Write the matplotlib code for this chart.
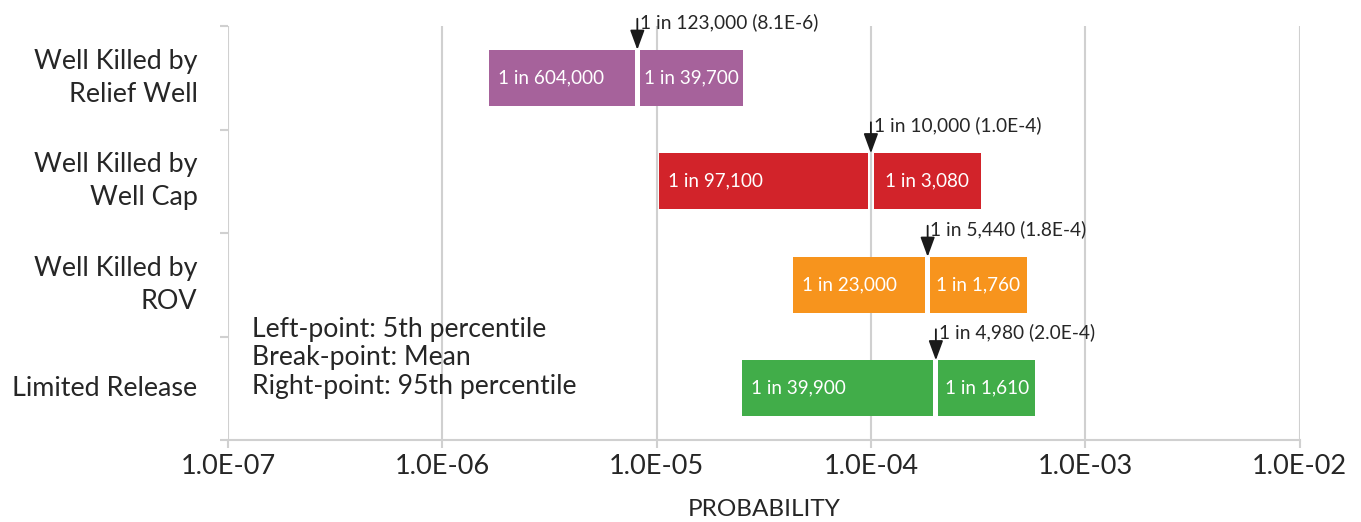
import numpy as np
import matplotlib
matplotlib.use("Agg")
import matplotlib.pyplot as plt
from matplotlib.ticker import FixedLocator, FuncFormatter

plt.rcParams['font.family'] = ['Lato', 'DejaVu Sans']

# ---------------- data ----------------
categories = ["Well Killed by\nRelief Well", "Well Killed by\nWell Cap",
              "Well Killed by\nROV", "Limited Release"]
low_one_in = [604000, 97100, 23000, 39900]      # 5th percentile label, "1 in N"
mean_one_in = [123000, 10000, 5440, 4980]       # mean label, "1 in N"
high_one_in = [39700, 3080, 1760, 1610]         # 95th percentile label, "1 in N"
# bar extents as drawn in the chart (probability)
p5 = [1.66e-6, 1.03e-5, 4.35e-5, 2.51e-5]
p_mean = [8.13e-6, 1.0e-4, 1.84e-4, 2.01e-4]
p95 = [2.52e-5, 3.25e-4, 5.33e-4, 5.84e-4]
colors = ["#A6629B", "#D2232A", "#F7941D", "#41AD49"]
xticks = [1e-7, 1e-6, 1e-5, 1e-4, 1e-3, 1e-2]
legend_lines = ["Left-point: 5th percentile", "Break-point: Mean",
                "Right-point: 95th percentile"]

def sci(v):
    m, e = f"{v:.1E}".split("E")
    return f"{m}E{int(e)}"

TXT = "#262626"
GRID = "#D0D0D0"

fig = plt.figure(figsize=(13.61, 5.22), dpi=100)
ax = fig.add_axes([228 / 1361, 1 - 440 / 522, (1299.5 - 228) / 1361, (440 - 26) / 522])
ax.set_xscale("log")
ax.set_xlim(1e-7, 1e-2)
ax.set_ylim(len(categories) - 0.5, -0.5)

bar_h = 0.54
gap_dec = 2.6 / 214.3  # half-gap in decades around the mean

for i, (lo, me, hi, c) in enumerate(zip(p5, p_mean, p95, colors)):
    left_end = me * 10 ** (-gap_dec)
    right_start = me * 10 ** (gap_dec)
    ax.barh(i, left_end - lo, left=lo, height=bar_h, color=c, zorder=3)
    ax.barh(i, hi - right_start, left=right_start, height=bar_h, color=c, zorder=3)
    # labels inside bars
    ax.annotate(f"1 in {low_one_in[i]:,}", xy=(lo, i), xytext=(6, 0),
                textcoords="offset points", ha="left", va="center",
                color="white", fontsize=13.6, zorder=4)
    cx = np.sqrt(right_start * hi)
    ax.text(cx, i, f"1 in {high_one_in[i]:,}", ha="center", va="center",
            color="white", fontsize=13.6, zorder=4)
    # arrow + mean label
    top = i - bar_h / 2
    ax.annotate("", xy=(me, top), xytext=(me, top - 0.30),
                arrowprops=dict(arrowstyle="-|>,head_length=0.6,head_width=0.22",
                                color="#1a1a1a", lw=1.3, shrinkA=0, shrinkB=0,
                                mutation_scale=20), zorder=5,
                annotation_clip=False)
    ax.annotate(f"1 in {mean_one_in[i]:,} ({sci(1.0 / mean_one_in[i])})",
                xy=(me, top - 0.27), xytext=(2, 0), textcoords="offset points",
                ha="left", va="center", color=TXT, fontsize=13.8, zorder=5,
                annotation_clip=False)

ax.text(24 / 1071.5, (440 - 358) / 414, "\n".join(legend_lines),
        transform=ax.transAxes, ha="left", va="center", fontsize=19.2,
        color=TXT, linespacing=1.19)

# axes styling
for s in ["top", "right", "left"]:
    ax.spines[s].set_visible(False)
ax.spines["bottom"].set_color(GRID)
ax.spines["bottom"].set_linewidth(1.5)
ax.spines["bottom"].set_bounds(1e-7, 1e-2)

ax.xaxis.set_major_locator(FixedLocator(xticks))
ax.xaxis.set_minor_locator(FixedLocator([]))
ax.xaxis.set_major_formatter(FuncFormatter(lambda v, p: f"{v:.1E}"))
ax.tick_params(axis="x", which="major", length=6, width=1.5, color=GRID,
               labelsize=19.5, labelcolor=TXT, pad=4)
ax.grid(axis="x", which="major", color=GRID, lw=1.5)
ax.set_axisbelow(True)

ax.set_yticks(range(len(categories)))
ax.set_yticklabels(categories)
for lab in ax.get_yticklabels():
    lab.set_linespacing(1.4)
    lab.set_verticalalignment("center")
ax.set_yticks(np.arange(-0.5, len(categories)), minor=True)
ax.tick_params(axis="y", which="major", length=0, labelsize=19.4,
               labelcolor=TXT, pad=22)
ax.tick_params(axis="y", which="minor", length=6, width=1.5, color=GRID)

ax.set_xlabel("PROBABILITY", fontsize=17.5, color=TXT, labelpad=14.5)

fig.savefig("out.png", dpi=100)
